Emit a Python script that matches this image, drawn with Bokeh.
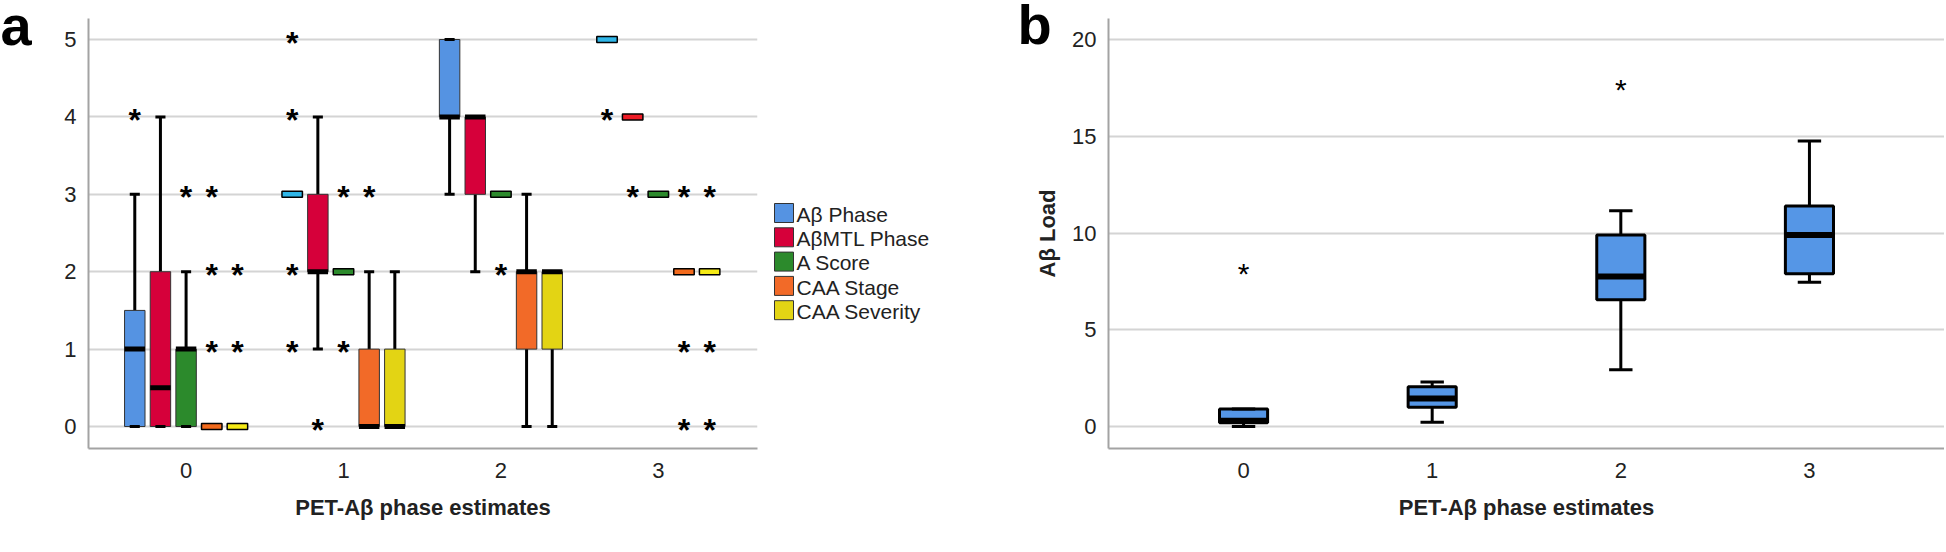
import math
from bokeh.plotting import figure
from bokeh.models import ColumnDataSource, FixedTicker, Range1d
from bokeh.layouts import row
from bokeh.embed import file_html
from bokeh.resources import INLINE
from bokeh.core.properties import value

# ---------------- data ----------------
categories = [0, 1, 2, 3]
x_labels = ["0", "1", "2", "3"]
a_yticks = [0, 1, 2, 3, 4, 5]
b_yticks = [0, 5, 10, 15, 20]
x_title = "PET-Aβ phase estimates"
b_y_title = "Aβ Load"
panel_letters = ["a", "b"]

series_names = ["Aβ Phase", "AβMTL Phase", "A Score", "CAA Stage", "CAA Severity"]

# panel a: per series, per category (0..3)
abphase_q1 = [0, 3, 4, 5]
abphase_med = [1, 3, 4, 5]
abphase_q3 = [1.5, 3, 5, 5]
abphase_lo = [0, 3, 3, 5]
abphase_hi = [3, 3, 5, 5]
abphase_out = [[4], [5, 4, 2, 1], [], [4]]

abmtl_q1 = [0, 2, 3, 4]
abmtl_med = [0.5, 2, 4, 4]
abmtl_q3 = [2, 3, 4, 4]
abmtl_lo = [0, 1, 2, 4]
abmtl_hi = [4, 4, 4, 4]
abmtl_out = [[], [0], [], [3]]

ascore_q1 = [0, 2, 3, 3]
ascore_med = [1, 2, 3, 3]
ascore_q3 = [1, 2, 3, 3]
ascore_lo = [0, 2, 3, 3]
ascore_hi = [2, 2, 3, 3]
ascore_out = [[3], [3, 1], [2], []]

caastage_q1 = [0, 0, 1, 2]
caastage_med = [0, 0, 2, 2]
caastage_q3 = [0, 1, 2, 2]
caastage_lo = [0, 0, 0, 2]
caastage_hi = [0, 2, 3, 2]
caastage_out = [[3, 2, 1], [3], [], [3, 1, 0]]

caasev_q1 = [0, 0, 1, 2]
caasev_med = [0, 0, 2, 2]
caasev_q3 = [0, 1, 2, 2]
caasev_lo = [0, 0, 0, 2]
caasev_hi = [0, 2, 2, 2]
caasev_out = [[2, 1], [], [], [3, 1, 0]]

# panel b
load_q1 = [0.2, 1.0, 6.55, 7.9]
load_med = [0.3, 1.45, 7.75, 9.9]
load_q3 = [0.9, 2.05, 9.9, 11.4]
load_lo = [0.0, 0.22, 2.93, 7.45]
load_hi = [0.9, 2.3, 11.15, 14.75]
load_out = [[8.05], [], [17.55], []]

# ---------------- styles ----------------
box_colors = ["#5593E2", "#D6003A", "#2C8A2C", "#F26A28", "#E3D414"]
flat_colors = ["#2FB6E8", "#EE1C26", "#2C8A2C", "#F26A1C", "#F5EA16"]
b_color = "#5596E6"
FONT = "Liberation Sans"
GRID = "#d4d4d4"
AXIS = "#a3a3a3"
TXT = "#222222"

series_stats = [
    (abphase_q1, abphase_med, abphase_q3, abphase_lo, abphase_hi, abphase_out),
    (abmtl_q1, abmtl_med, abmtl_q3, abmtl_lo, abmtl_hi, abmtl_out),
    (ascore_q1, ascore_med, ascore_q3, ascore_lo, ascore_hi, ascore_out),
    (caastage_q1, caastage_med, caastage_q3, caastage_lo, caastage_hi, caastage_out),
    (caasev_q1, caasev_med, caasev_q3, caasev_lo, caasev_hi, caasev_out),
]

H = 550
TOP, BOT = 0, 102
FRAME_H = H - TOP - BOT          # 448 px, frames of all strips are aligned

A_X = (-0.62, 3.63)
A_Y = (-0.284, 5.504)            # extra headroom above the axis top
A_AXIS_TOP = 5.27
B_X = (-0.716, 3.716)
B_Y = (-1.137, 22.016)
B_AXIS_TOP = 21.09
BASE_SHIFT = 0.4                 # em, alphabetic anchor correction
LETTER_SHIFT = 0.33


def style(p, yticks, ybounds):
    p.xaxis.ticker = FixedTicker(ticks=categories)
    p.xaxis.major_label_overrides = {c: l for c, l in zip(categories, x_labels)}
    p.yaxis.ticker = FixedTicker(ticks=yticks)
    p.yaxis.bounds = ybounds
    p.xgrid.visible = False
    p.ygrid.grid_line_color = GRID
    p.ygrid.grid_line_width = 2
    for ax in (p.xaxis, p.yaxis):
        ax.axis_line_color = AXIS
        ax.axis_line_width = 2
        ax.major_tick_line_color = None
        ax.minor_tick_line_color = None
        ax.major_label_text_font = FONT
        ax.major_label_text_font_size = "22px"
        ax.major_label_text_color = TXT
        ax.axis_label_text_font = FONT
        ax.axis_label_text_font_size = "22px"
        ax.axis_label_text_font_style = "bold"
        ax.axis_label_text_color = TXT
    p.xaxis.major_label_standoff = 8
    p.yaxis.major_label_standoff = 6
    p.xaxis.axis_label = x_title
    p.xaxis.axis_label_standoff = 14
    p.outline_line_color = None
    p.border_fill_color = "white"


def make_fig(w, l, r, xr, yr):
    return figure(width=w, height=H, output_backend="svg", toolbar_location=None,
                  x_range=Range1d(*xr), y_range=Range1d(*yr),
                  min_border_left=l, min_border_right=r, min_border_top=TOP, min_border_bottom=BOT)


def blank_fig(w):
    # pixel-space strip: x from its left edge, y measured from the top of the page
    p = figure(width=w, height=H, output_backend="svg", toolbar_location=None,
               x_range=Range1d(0, w), y_range=Range1d(FRAME_H, 0),
               x_axis_location=None, y_axis_location=None,
               min_border_left=0, min_border_right=0, min_border_top=TOP, min_border_bottom=BOT)
    p.grid.visible = False
    p.outline_line_color = None
    return p


# ---------------- "a" label strip ----------------
fa = blank_fig(48)
fa.text(x=[0], y=[43 - LETTER_SHIFT * 56], text=[panel_letters[0]], text_font=value(FONT),
        text_font_size="56px", text_font_style="bold", text_color="black",
        text_baseline="alphabetic", text_align="left")

# ---------------- panel a ----------------
pa = make_fig(714, 40, 5, A_X, A_Y)
style(pa, a_yticks, (A_Y[0], A_AXIS_TOP))

SP, BW, CW = 0.163, 0.13, 0.064
for s, (q1, med, q3, lo, hi, out) in enumerate(series_stats):
    xs = [c + (s - 2) * SP for c in categories]
    wx, wy0, wy1 = [], [], []
    for i, x in enumerate(xs):
        if lo[i] < q1[i]:
            wx.append(x); wy0.append(lo[i]); wy1.append(q1[i])
        if hi[i] > q3[i]:
            wx.append(x); wy0.append(q3[i]); wy1.append(hi[i])
    pa.segment(x0=wx, y0=wy0, x1=wx, y1=wy1, line_color="black", line_width=3)
    idx = [i for i in range(4) if q3[i] > q1[i]]
    src = ColumnDataSource(dict(left=[xs[i] - BW / 2 for i in idx], right=[xs[i] + BW / 2 for i in idx],
                                bottom=[q1[i] for i in idx], top=[q3[i] for i in idx]))
    pa.quad(left="left", right="right", bottom="bottom", top="top", source=src,
            fill_color=box_colors[s], line_color="#333333", line_width=1)
    pa.segment(x0=[xs[i] - BW / 2 for i in idx], x1=[xs[i] + BW / 2 for i in idx],
               y0=[med[i] for i in idx], y1=[med[i] for i in idx],
               line_color="black", line_width=5, line_cap="butt")
    cx = xs + xs
    cy = list(lo) + list(hi)
    pa.segment(x0=[x - CW / 2 for x in cx], x1=[x + CW / 2 for x in cx], y0=cy, y1=cy,
               line_color="black", line_width=3, line_cap="butt")
    fidx = [i for i in range(4) if q3[i] == q1[i]]
    pa.rect(x=[xs[i] for i in fidx], y=[q1[i] for i in fidx], width=BW, height=6,
            height_units="screen", fill_color=flat_colors[s], line_color="black", line_width=1.5)
    ox, oy = [], []
    for i, x in enumerate(xs):
        for v in out[i]:
            ox.append(x); oy.append(v)
    pa.text(x=ox, y=oy, text=["*"] * len(ox), text_font=value(FONT), text_font_size="32px",
            text_font_style="bold", text_align="center", text_baseline="alphabetic",
            text_color="black", y_offset=3)

# ---------------- legend strip ----------------
fl = blank_fig(198)
LG_X, LG_TOP, LG_PITCH, LG_SW, LG_FS = 12, 203, 24.3, 19, 21
rows_top = [LG_TOP + LG_PITCH * i for i in range(len(series_names))]
fl.rect(x=[LG_X + LG_SW / 2] * len(series_names), y=[t + LG_SW / 2 for t in rows_top],
        width=LG_SW, height=LG_SW, fill_color=box_colors, line_color="#333333", line_width=1)
fl.text(x=[LG_X + LG_SW + 3] * len(series_names),
        y=[t + LG_SW - BASE_SHIFT * LG_FS for t in rows_top],
        text=series_names, text_font=value(FONT), text_font_size=f"{LG_FS}px", text_color=TXT,
        text_baseline="alphabetic", text_align="left")

# ---------------- "b" label + y title strip ----------------
fb = blank_fig(102)
fb.text(x=[57], y=[42 - LETTER_SHIFT * 56], text=[panel_letters[1]], text_font=value(FONT),
        text_font_size="56px", text_font_style="bold", text_color="black",
        text_baseline="alphabetic", text_align="left")
fb.text(x=[87], y=[233], text=[b_y_title], text_font=value(FONT), text_font_size="22px",
        text_font_style="bold", text_color=TXT, text_baseline="middle", text_align="center",
        angle=math.pi / 2)

# ---------------- panel b ----------------
pb = make_fig(882, 46, 0, B_X, B_Y)
style(pb, b_yticks, (B_Y[0], B_AXIS_TOP))

BBW, BCW = 0.255, 0.124
wx, wy0, wy1 = [], [], []
for i, c in enumerate(categories):
    if load_lo[i] < load_q1[i]:
        wx.append(c); wy0.append(load_lo[i]); wy1.append(load_q1[i])
    if load_hi[i] > load_q3[i]:
        wx.append(c); wy0.append(load_q3[i]); wy1.append(load_hi[i])
pb.segment(x0=wx, y0=wy0, x1=wx, y1=wy1, line_color="black", line_width=3)
pb.quad(left=[c - BBW / 2 for c in categories], right=[c + BBW / 2 for c in categories],
        bottom=load_q1, top=load_q3, fill_color=b_color, line_color="black", line_width=3)
pb.segment(x0=[c - BBW / 2 for c in categories], x1=[c + BBW / 2 for c in categories],
           y0=load_med, y1=load_med, line_color="black", line_width=6, line_cap="butt")
cxs = categories + categories
cys = load_lo + load_hi
pb.segment(x0=[c - BCW / 2 for c in cxs], x1=[c + BCW / 2 for c in cxs], y0=cys, y1=cys,
           line_color="black", line_width=3, line_cap="butt")
ox, oy = [], []
for i, c in enumerate(categories):
    for v in load_out[i]:
        ox.append(c); oy.append(v)
pb.text(x=ox, y=oy, text=["*"] * len(ox), text_font=value(FONT), text_font_size="30px",
        text_align="center", text_baseline="alphabetic", text_color="black", y_offset=3)

layout = row(fa, pa, fl, fb, pb)
open("out.html", "w").write(file_html(layout, INLINE))
